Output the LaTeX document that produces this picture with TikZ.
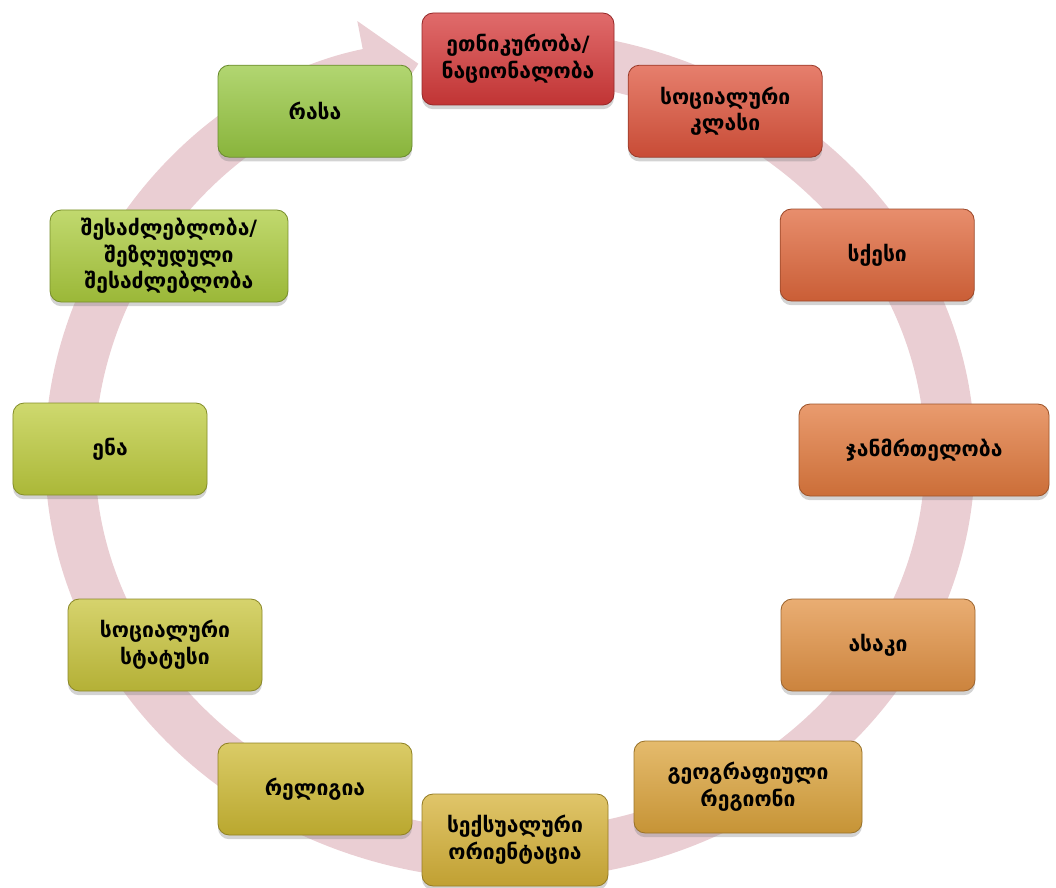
\documentclass[tikz,border=0pt]{standalone}
\usepackage{fontspec}
\newfontfamily\geofont{DejaVu Sans}
\definecolor{ringpink}{RGB}{234, 206, 211}
\definecolor{ethred}{RGB}{214, 58, 58}
\definecolor{clsred}{RGB}{222, 84, 60}
\definecolor{sexorange}{RGB}{224, 104, 60}
\definecolor{hlthorange}{RGB}{226, 122, 62}
\definecolor{ageorange}{RGB}{226, 146, 68}
\definecolor{geogold}{RGB}{220, 164, 60}
\definecolor{orgold}{RGB}{214, 178, 56}
\definecolor{relyellow}{RGB}{206, 186, 52}
\definecolor{statyellow}{RGB}{200, 196, 60}
\definecolor{langgreen}{RGB}{190, 204, 62}
\definecolor{abilgreen}{RGB}{172, 204, 62}
\definecolor{racegreen}{RGB}{152, 200, 66}
\usetikzlibrary{shapes, arrows.meta, positioning, calc, shadows}

\begin{document}
\begin{tikzpicture}[
  catbox/.style={draw=#1!70!black, line width=0.6pt, rounded corners=8pt, minimum width=4.85cm, minimum height=2.3cm, align=center, inner sep=4pt,
    top color=#1!75!white, bottom color=#1!90!black, font=\geofont\bfseries\fontsize{15}{19}\selectfont,
    drop shadow={opacity=0.35, shadow xshift=0pt, shadow yshift=-3pt}}
]
  \useasboundingbox (0,0) rectangle (26.4,-22.2);

  % Cycle arrow behind the boxes
  \draw[ringpink, line width=1.25cm, -{Triangle[width=2.6cm, length=1.3cm]}]
    (12.75,-11.375) ++(92:11cm and 10cm)
    arc[start angle=92, end angle=-258, x radius=11cm, y radius=10cm];

  % Top
  \node[catbox=ethred, minimum width=4.8cm] (eth) at (12.95, -1.475) {ეთნიკურობა/\\ნაციონალობა};
  \node[catbox=clsred] (cls) at (18.13, -2.78) {სოციალური\\კლასი};

  % Right side
  \node[catbox=sexorange] (sex) at (21.93, -6.375) {სქესი};
  \node[catbox=hlthorange, minimum width=6.25cm] (hlth) at (23.1, -11.25) {ჯანმრთელობა};
  \node[catbox=ageorange] (age) at (21.95, -16.125) {ასაკი};
  \node[catbox=geogold, minimum width=5.7cm] (geo) at (18.7, -19.675) {გეოგრაფიული\\რეგიონი};

  % Bottom
  \node[catbox=orgold, minimum width=4.65cm] (orient) at (12.875, -21.0) {სექსუალური\\ორიენტაცია};
  \node[catbox=relyellow] (rel) at (7.875, -19.725) {რელიგია};

  % Left side
  \node[catbox=statyellow] (stat) at (4.125, -16.125) {სოციალური\\სტატუსი};
  \node[catbox=langgreen] (lang) at (2.75, -11.225) {ენა};
  \node[catbox=abilgreen, minimum width=5.95cm] (abil) at (4.225, -6.4) {შესაძლებლობა/\\შეზღუდული\\შესაძლებლობა};
  \node[catbox=racegreen] (race) at (7.875, -2.78) {რასა};
\end{tikzpicture}
\end{document}
